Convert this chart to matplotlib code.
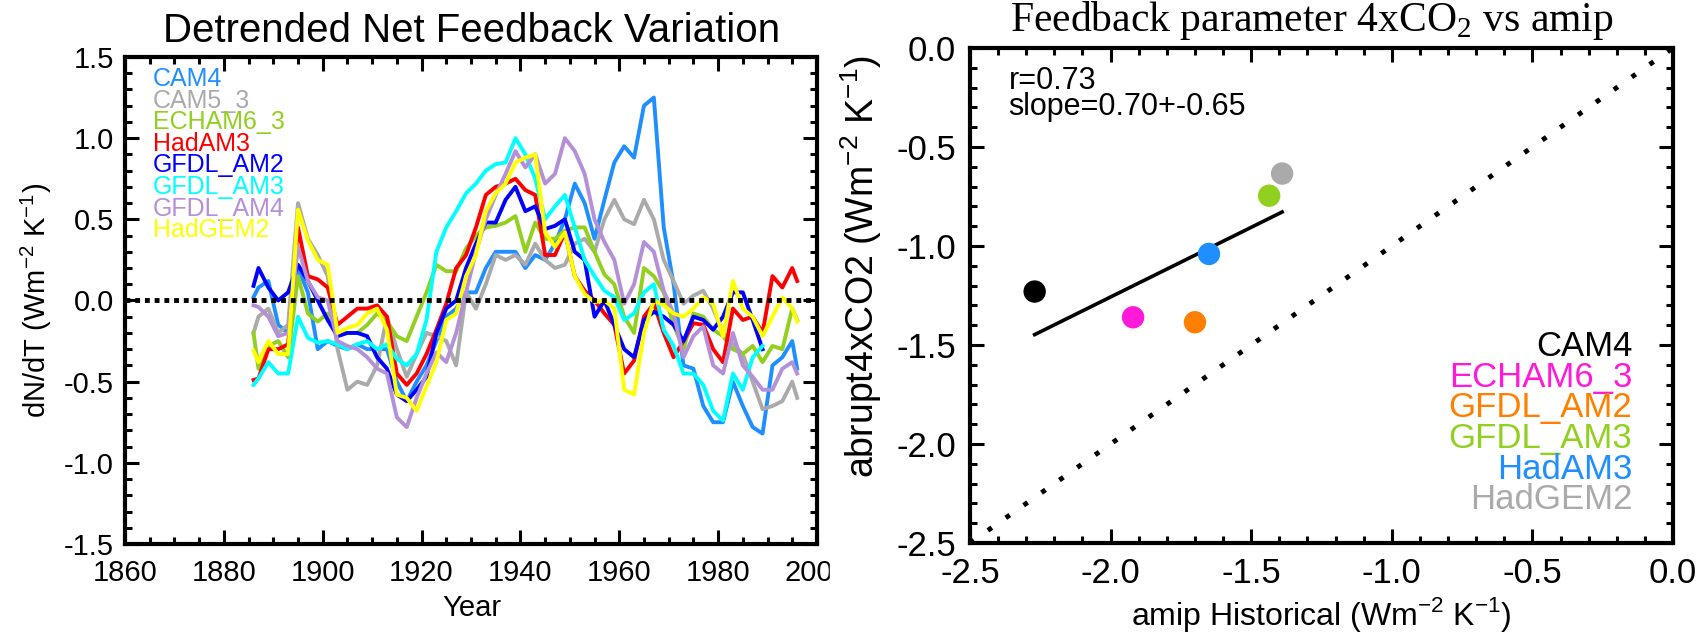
import numpy as np
import matplotlib.pyplot as plt
from matplotlib.ticker import MultipleLocator, FormatStrFormatter
from matplotlib.patches import Rectangle

plt.rcParams['font.family'] = ['Liberation Sans', 'DejaVu Sans']
plt.rcParams['axes.unicode_minus'] = False

nan = np.nan

# ---- left panel: detrended net feedback ----
years = [1886] + list(range(1887, 1996, 2)) + [1996]

cam4 = [0.02, 0.08, 0.12, -0.15, -0.20, 0.20, 0.05, -0.30, -0.25, -0.28,
        -0.30, -0.27, -0.30, -0.30, -0.30, -0.50, -0.62, -0.50, -0.40, -0.25,
        -0.10, -0.05, 0.05, 0.05, 0.20, 0.30, 0.30, 0.30, 0.20, 0.28,
        0.25, 0.35, 0.50, 0.72, 0.60, 0.38, 0.62, 0.85, 0.95, 0.88,
        1.20, 1.25, 0.45, 0.10, -0.40, -0.42, -0.65, -0.75, -0.75, -0.50,
        -0.65, -0.78, -0.82, -0.40, -0.35, -0.25, -0.42]
cam5_3 = [-0.20, -0.10, -0.05, -0.20, -0.15, 0.60, 0.38, 0.28, 0.15, -0.30,
          -0.55, -0.50, -0.52, -0.40, -0.10, -0.30, -0.47, -0.33, -0.20, -0.22,
          -0.25, -0.40, 0.05, -0.05, 0.10, 0.28, 0.25, 0.28, 0.22, 0.35,
          0.25, 0.20, 0.22, 0.35, 0.38, 0.30, 0.50, 0.62, 0.50, 0.47,
          0.62, 0.50, 0.25, 0.12, -0.02, 0.03, 0.06, -0.05, -0.20, -0.27,
          -0.33, -0.50, -0.67, -0.65, -0.62, -0.50, -0.60]
echam6_3 = [-0.20, -0.42, -0.28, -0.25, -0.35, 0.15, -0.08, -0.13, -0.08, -0.20,
            -0.20, -0.20, -0.15, -0.08, -0.13, -0.22, -0.25, -0.10, 0.05, 0.22,
            0.18, 0.18, 0.32, 0.40, 0.45, 0.46, 0.48, 0.52, 0.30, 0.48,
            0.38, 0.38, 0.43, 0.45, 0.45, 0.30, 0.16, 0.10, -0.10, -0.20,
            0.20, 0.15, 0.05, -0.15, -0.30, -0.08, -0.10, -0.18, -0.22, -0.30,
            -0.33, -0.28, -0.38, -0.28, -0.30, -0.05, -0.12]
hadam3 = [-0.49, -0.48, -0.30, -0.30, -0.27, 0.45, 0.15, 0.13, 0.08, -0.15,
          -0.10, -0.05, -0.05, -0.03, -0.10, -0.45, -0.52, -0.45, -0.33, -0.18,
          -0.02, 0.20, 0.28, 0.45, 0.65, 0.70, 0.72, 0.75, 0.68, 0.65,
          0.28, 0.28, 0.42, 0.15, 0.06, 0.00, -0.08, -0.15, -0.45, -0.37,
          -0.10, -0.02, -0.20, -0.35, -0.25, -0.14, -0.15, -0.30, -0.38, -0.05,
          -0.12, -0.10, -0.20, 0.15, 0.08, 0.20, 0.12]
gfdl_am2 = [0.09, 0.20, 0.08, 0.00, 0.05, 0.22, 0.12, 0.00, -0.12, -0.22,
            -0.20, -0.20, -0.22, -0.35, -0.42, -0.58, -0.62, -0.55, -0.47, -0.20,
            -0.05, 0.00, 0.20, 0.35, 0.48, 0.48, 0.62, 0.70, 0.55, 0.58,
            0.44, 0.46, 0.50, 0.30, 0.25, -0.10, 0.00, -0.15, -0.30, -0.35,
            -0.12, -0.07, -0.10, -0.15, -0.25, -0.10, -0.12, -0.18, -0.10, 0.05,
            0.05, -0.12, -0.30, nan, nan, nan, nan]
gfdl_am3 = [-0.52, -0.48, -0.38, -0.45, -0.45, -0.10, -0.23, -0.26, -0.25, -0.27,
            -0.30, -0.27, -0.25, -0.30, -0.27, -0.36, -0.40, -0.33, -0.12, 0.30,
            0.45, 0.55, 0.66, 0.72, 0.80, 0.84, 0.85, 1.00, 0.90, 0.75,
            0.50, 0.58, 0.65, 0.45, 0.25, 0.15, 0.06, 0.02, -0.12, -0.08,
            0.05, 0.10, -0.18, -0.28, -0.45, -0.45, -0.52, -0.68, -0.74, -0.45,
            -0.55, -0.35, -0.28, nan, nan, nan, nan]
gfdl_am4 = [-0.03, -0.04, -0.10, -0.22, -0.20, 0.33, 0.12, 0.02, 0.00, -0.25,
            -0.28, -0.30, -0.35, -0.42, -0.45, -0.72, -0.78, -0.60, -0.45, -0.32,
            -0.38, -0.20, 0.05, 0.30, 0.50, 0.65, 0.78, 0.92, 0.82, 0.90,
            0.72, 0.78, 1.00, 0.92, 0.78, 0.50, 0.36, 0.25, -0.02, 0.10,
            0.36, 0.30, 0.06, -0.08, -0.35, -0.22, -0.16, -0.40, -0.45, -0.20,
            -0.40, -0.47, -0.55, -0.55, -0.42, -0.38, -0.45]
hadgem2 = [-0.31, -0.38, -0.25, -0.33, -0.33, 0.56, 0.37, 0.25, 0.22, -0.20,
           -0.17, -0.15, -0.08, -0.05, -0.18, -0.58, -0.60, -0.68, -0.53, -0.38,
           -0.12, -0.08, 0.15, 0.28, 0.55, 0.66, 0.72, 0.85, 0.88, 0.90,
           0.42, 0.33, 0.42, 0.15, 0.04, -0.01, 0.00, -0.05, -0.55, -0.58,
           -0.20, 0.00, -0.03, -0.08, -0.10, -0.05, 0.02, -0.02, -0.22, 0.12,
           -0.05, -0.10, -0.22, -0.10, 0.02, -0.05, -0.13]

left_names = ['CAM4', 'CAM5_3', 'ECHAM6_3', 'HadAM3', 'GFDL_AM2', 'GFDL_AM3',
              'GFDL_AM4', 'HadGEM2']
left_series = [cam4, cam5_3, echam6_3, hadam3, gfdl_am2, gfdl_am3, gfdl_am4, hadgem2]
left_colors = ['#1f8fff', '#aaaaaa', '#92d020', '#ff0000', '#0000ff', '#00ffff',
               '#b490d8', '#ffff00']

# ---- right panel: feedback parameter scatter ----
right_names = ['CAM4', 'ECHAM6_3', 'GFDL_AM2', 'GFDL_AM3', 'HadAM3', 'HadGEM2']
amip = [-2.27, -1.92, -1.70, -1.436, -1.65, -1.39]
abrupt = [-1.23, -1.36, -1.385, -0.746, -1.04, -0.634]
right_colors = ['#000000', '#ff1ad9', '#ff8000', '#92d020', '#1f8fff', '#aaaaaa']

fig = plt.figure(figsize=(17.08, 6.36), dpi=100)


def style_axes(ax, size, pad):
    for sp in ax.spines.values():
        sp.set_linewidth(3)
    ax.tick_params(which='both', direction='in', top=True, right=True, width=2.2,
                   labelsize=size, pad=pad)
    ax.tick_params(which='major', length=10)
    ax.tick_params(which='minor', length=5)


# left
ax1 = fig.add_axes([0.0732, 0.1447, 0.4051, 0.7657])
for name, ser, col in zip(left_names, left_series, left_colors):
    ax1.plot(years, ser, color=col, lw=2.8)
ax1.axhline(0, color='k', lw=3.5, ls=(0, (1, 1)), zorder=3)
ax1.set_xlim(1860, 2000)
ax1.set_ylim(-1.5, 1.5)
ax1.xaxis.set_major_locator(MultipleLocator(20))
ax1.xaxis.set_minor_locator(MultipleLocator(5))
ax1.yaxis.set_major_locator(MultipleLocator(0.5))
ax1.yaxis.set_minor_locator(MultipleLocator(0.1))
ax1.yaxis.set_major_formatter(FormatStrFormatter('%.1f'))
style_axes(ax1, 21, 8)
ax1.tick_params(axis='x', pad=11)
for i, (name, col) in enumerate(zip(left_names, left_colors)):
    ax1.text(0.04, 0.955 - i * 0.0444, name, color=col, fontsize=18,
             va='center', ha='left', transform=ax1.transAxes)

fig.text(0.276, 1 - 42 / 636, 'Detrended Net Feedback Variation', fontsize=29,
         ha='center', va='baseline')
fig.text(36 / 1708, 1 - 300 / 636,
         'dN/dT (Wm$^{\\mathregular{-2}}$ K$^{\\mathregular{-1}}$)',
         fontsize=21, rotation=90, ha='center', va='center')
fig.text(0.276, 1 - 608 / 636, 'Year', fontsize=21, ha='center', va='center')

# clip the last year label like the original panel edge
fig.add_artist(Rectangle((830 / 1708, 1 - 605 / 636), 25 / 1708, 55 / 636,
                         transform=fig.transFigure, color='white', zorder=10))

# right
ax2 = fig.add_axes([0.5679, 0.1462, 0.4116, 0.7783])
ax2.plot([-2.5, 0], [-2.5, 0], color='k', lw=3.5, ls=(0, (1, 3.5)))
k, b = np.polyfit(amip, abrupt, 1)
xf = np.array([min(amip), max(amip)])
ax2.plot(xf, k * xf + b, color='k', lw=2.6)
ax2.scatter(amip, abrupt, s=260, c=right_colors, edgecolors='none', zorder=3)
ax2.set_xlim(-2.5, 0)
ax2.set_ylim(-2.5, 0)
for a in (ax2.xaxis, ax2.yaxis):
    a.set_major_locator(MultipleLocator(0.5))
    a.set_minor_locator(MultipleLocator(0.1))
    a.set_major_formatter(FormatStrFormatter('%.1f'))
style_axes(ax2, 25, 10)
ax2.text(0.055, 0.934, 'r=0.73', fontsize=22, va='center', transform=ax2.transAxes)
ax2.text(0.055, 0.881, 'slope=0.70+-0.65', fontsize=22, va='center',
         transform=ax2.transAxes)
for i, (name, col) in enumerate(zip(right_names, right_colors)):
    ax2.text(0.942, 0.397 - i * 0.062, name, color=col, fontsize=25,
             ha='right', va='center', transform=ax2.transAxes)

fig.text(1312 / 1708, 1 - 31 / 636, 'Feedback parameter 4xCO$_\\mathregular{2}$ vs amip',
         fontsize=30, family=['Liberation Serif', 'DejaVu Serif'],
         ha='center', va='baseline')
fig.text(861 / 1708, 1 - 267 / 636,
         'abrupt4xCO2 (Wm$^{\\mathregular{-2}}$ K$^{\\mathregular{-1}}$)',
         fontsize=27, rotation=90, ha='center', va='center')
fig.text(1321 / 1708, 1 - 614 / 636,
         'amip Historical (Wm$^{\\mathregular{-2}}$ K$^{\\mathregular{-1}}$)',
         fontsize=23, ha='center', va='center')

fig.savefig('out.png', dpi=100)
